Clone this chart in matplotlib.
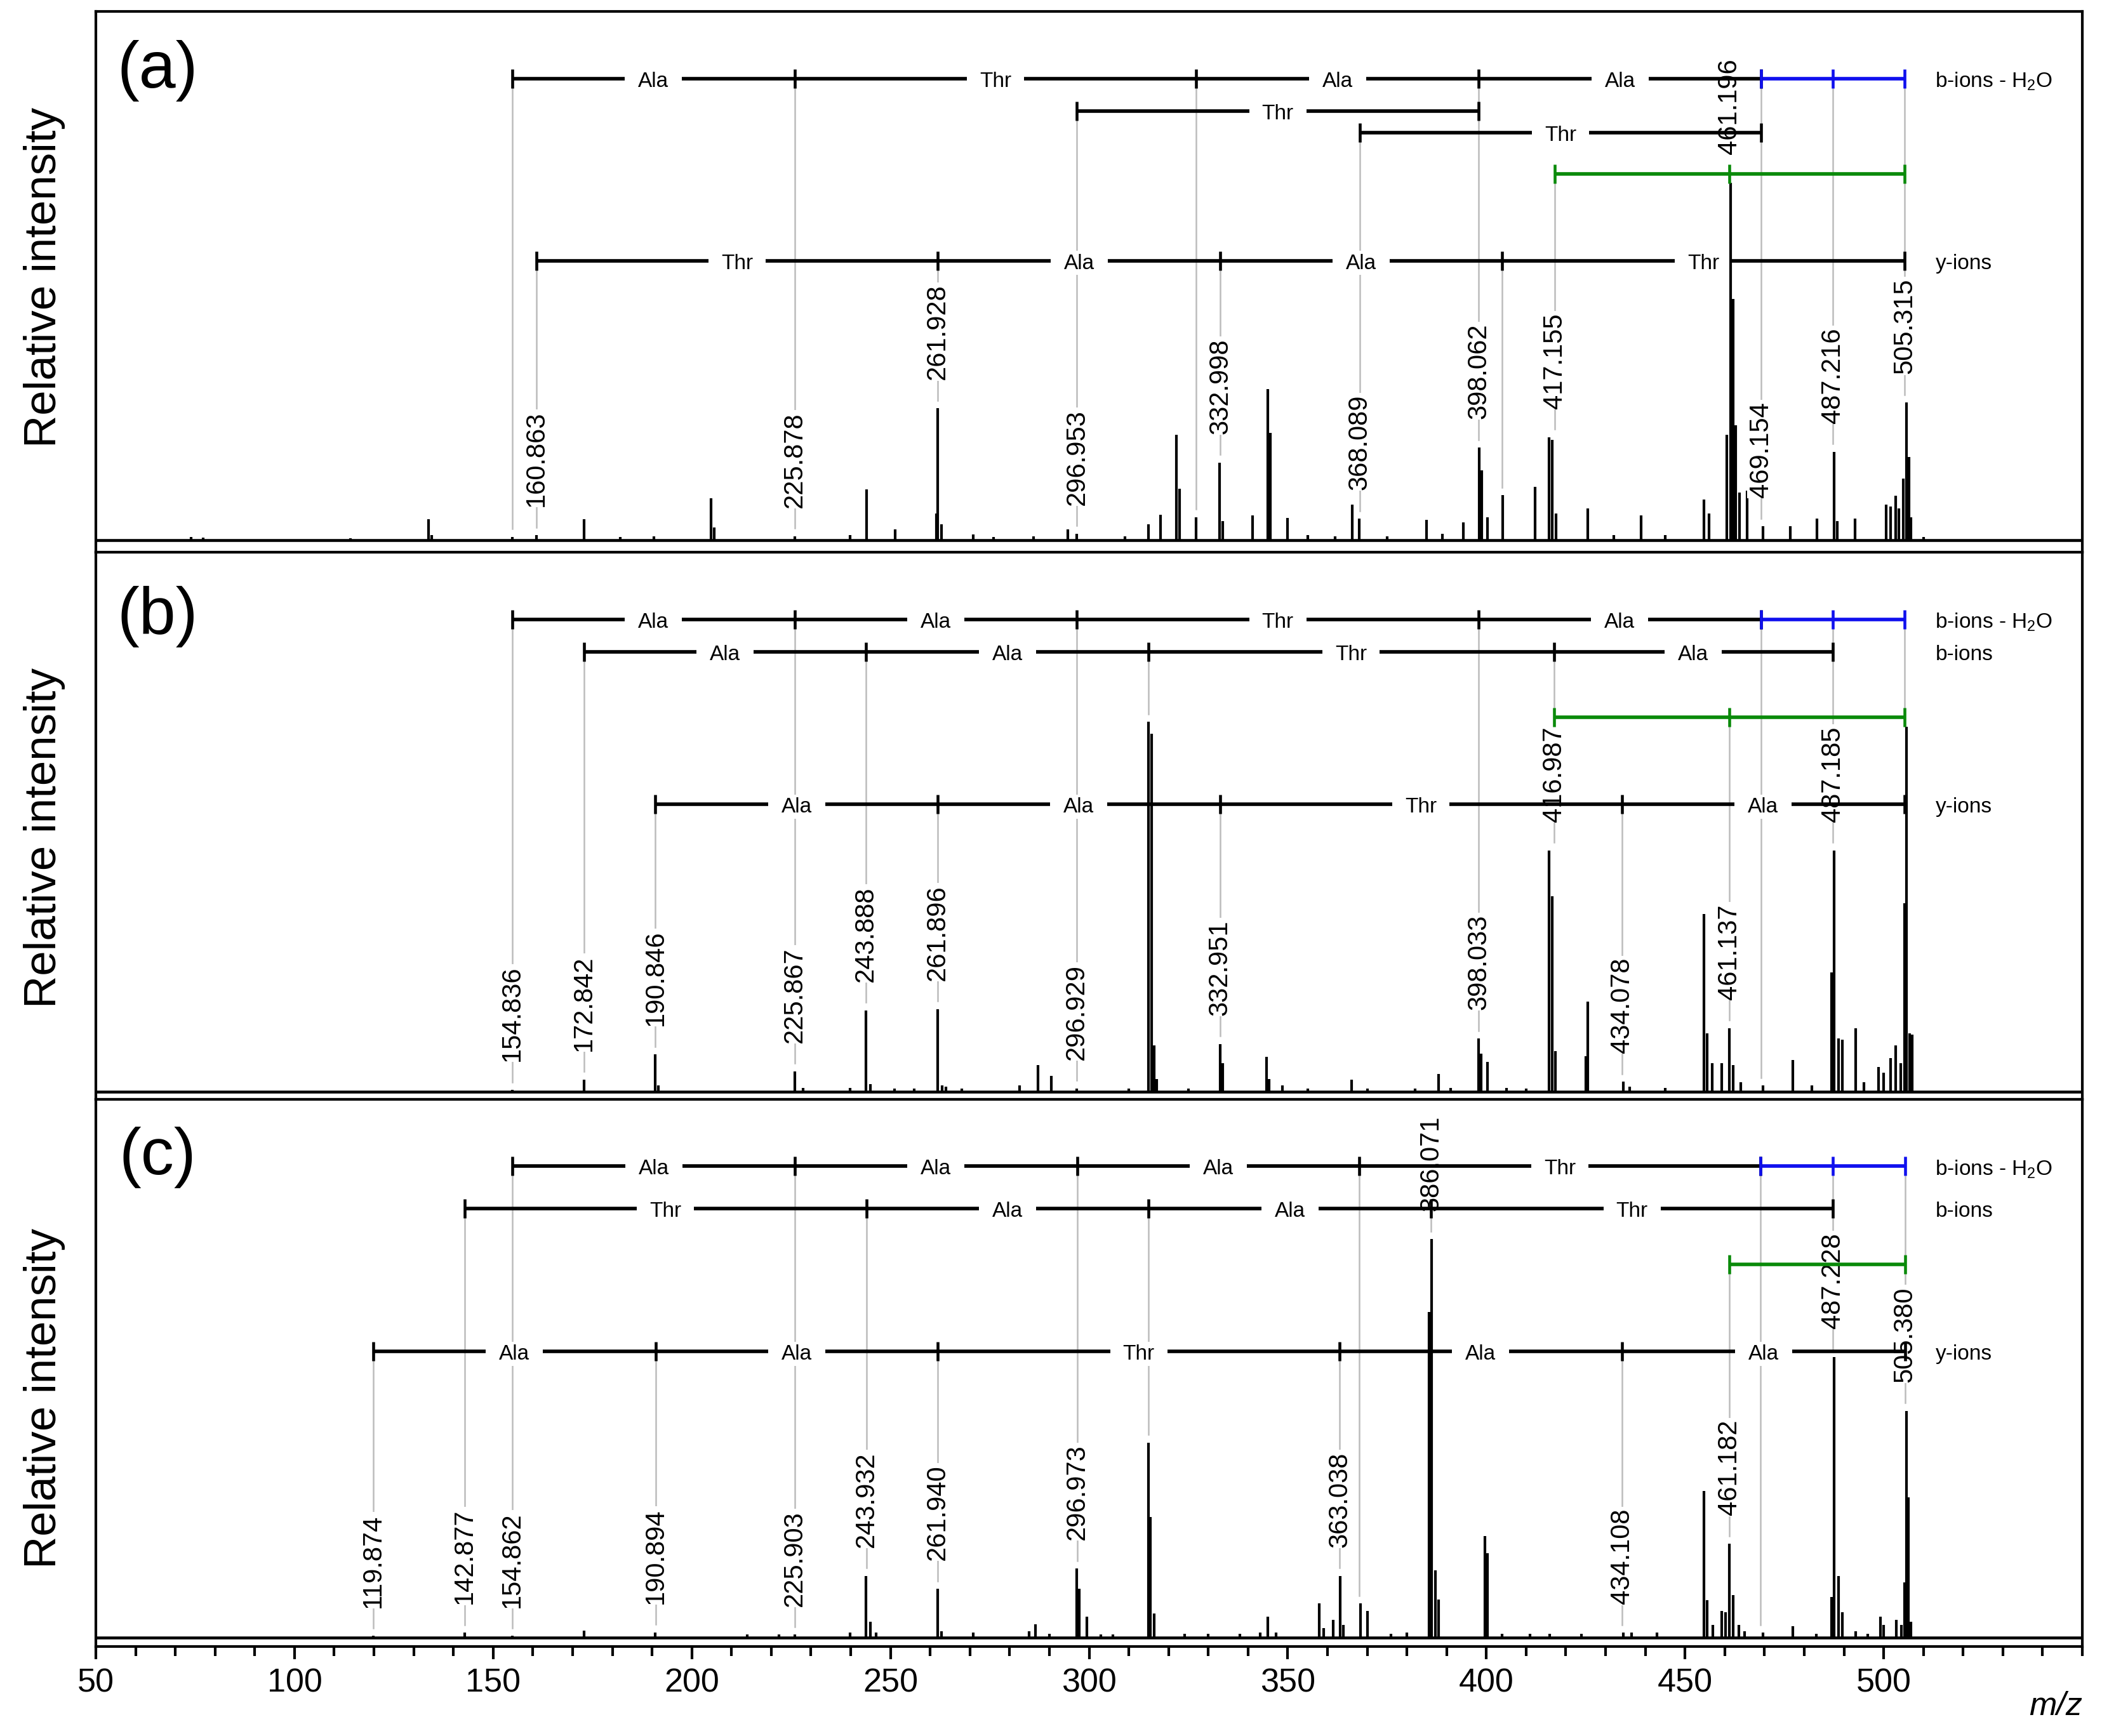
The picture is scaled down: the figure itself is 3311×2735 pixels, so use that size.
import matplotlib
matplotlib.use('Agg')
import matplotlib.pyplot as plt
from matplotlib.ticker import MultipleLocator

plt.rcParams['font.family'] = ['Liberation Sans', 'DejaVu Sans']
plt.rcParams['mathtext.fontset'] = 'custom'
plt.rcParams['mathtext.rm'] = 'Liberation Sans'
plt.rcParams['mathtext.it'] = 'Liberation Sans:italic'

# ---------------- data ----------------
panel_tags = ['(a)', '(b)', '(c)']

# spectrum (a)
a_mz = [73.9, 77.0, 114.0, 133.7, 134.5, 154.8, 160.9, 172.9, 182.0, 190.5, 204.9, 205.6,
        225.9, 239.8, 244.0, 251.2, 261.6, 261.9, 262.9, 270.8, 276.0, 286.0, 294.7, 296.9,
        309.0, 315.0, 318.0, 321.9, 322.7, 327.0, 332.9, 333.6, 341.2, 345.0, 345.6, 350.0,
        355.0, 362.0, 366.2, 368.0, 375.0, 385.0, 389.0, 394.2, 398.2, 398.8, 400.3, 404.1,
        412.2, 415.8, 416.6, 417.6, 425.5, 432.0, 438.9, 445.0, 454.8, 456.1, 460.5, 461.4,
        462.1, 462.7, 463.7, 465.7, 469.6, 476.5, 483.2, 487.5, 488.3, 492.8, 500.6, 501.8,
        503.0, 503.8, 504.9, 505.7, 506.4, 506.9, 510.0]
a_int = [0.9, 0.7, 0.5, 5.9, 1.4, 0.9, 1.4, 5.9, 0.9, 1.1, 11.7, 3.6,
         1.1, 1.4, 14.2, 3.0, 7.5, 36.9, 4.4, 1.6, 0.9, 1.1, 3.0, 1.8,
         1.1, 4.4, 7.1, 29.5, 14.4, 6.4, 21.7, 5.3, 6.9, 42.3, 30.0, 6.2,
         1.4, 1.1, 9.9, 6.0, 1.1, 5.7, 1.8, 5.0, 25.9, 19.5, 6.4, 12.6,
         14.9, 28.8, 28.1, 7.5, 8.9, 1.4, 6.9, 1.4, 11.4, 7.5, 29.5, 100.0,
         67.5, 32.1, 13.3, 13.9, 3.9, 3.9, 6.0, 24.7, 5.3, 6.0, 9.9, 9.4,
         12.4, 8.9, 17.2, 38.5, 23.3, 6.4, 0.9]

# spectrum (b)
b_mz = [154.8, 172.9, 190.8, 191.5, 225.9, 228.0, 239.8, 243.9, 245.0, 251.0, 256.0, 261.9,
        263.0, 264.0, 268.0, 282.5, 287.2, 290.5, 296.9, 310.0, 315.0, 315.8, 316.3, 317.0,
        325.0, 333.0, 333.6, 344.6, 345.3, 348.7, 355.0, 366.0, 370.0, 382.0, 388.0, 391.0,
        398.0, 398.6, 400.3, 405.0, 410.0, 415.8, 416.5, 417.3, 425.0, 425.5, 434.5, 436.0,
        445.0, 454.8, 455.5, 456.9, 459.2, 461.1, 462.1, 464.0, 469.6, 477.1, 482.0, 486.9,
        487.5, 488.6, 489.6, 493.0, 495.0, 498.7, 500.0, 501.8, 503.0, 504.3, 505.2, 505.7,
        506.6, 507.2]
b_int = [0.5, 3.3, 10.1, 1.7, 5.5, 1.0, 1.0, 22.0, 2.1, 0.9, 0.9, 22.3,
         1.7, 1.4, 0.9, 1.7, 7.2, 4.3, 0.9, 0.9, 100.0, 96.7, 12.5, 3.4,
         0.9, 12.9, 7.7, 9.4, 3.4, 1.7, 0.9, 3.3, 0.9, 0.9, 4.8, 1.0,
         14.4, 10.3, 8.1, 1.0, 0.9, 65.2, 52.8, 11.0, 9.6, 24.4, 2.7, 1.4,
         1.0, 48.0, 15.8, 7.7, 7.7, 17.2, 7.2, 2.6, 1.7, 8.6, 1.7, 32.2,
         65.2, 14.4, 14.1, 17.2, 2.6, 6.7, 5.1, 9.1, 12.5, 7.7, 50.9, 98.6,
         15.8, 15.4]

# spectrum (c)
c_mz = [119.9, 142.8, 154.8, 172.9, 190.8, 213.9, 222.0, 225.9, 239.8, 243.9, 245.0, 246.4,
        261.9, 262.8, 270.8, 284.9, 286.5, 290.0, 296.9, 297.6, 299.5, 303.0, 306.0, 315.0,
        315.5, 316.3, 324.0, 330.0, 338.0, 343.0, 345.0, 347.0, 358.0, 359.0, 361.4, 363.2,
        364.0, 368.3, 370.0, 376.0, 380.0, 385.6, 386.2, 387.2, 388.0, 399.7, 400.3, 404.0,
        411.0, 416.0, 424.0, 434.5, 436.5, 443.0, 454.8, 455.5, 457.0, 459.2, 460.2, 461.1,
        462.1, 463.5, 465.0, 469.6, 477.1, 483.0, 486.9, 487.5, 488.6, 489.6, 493.0, 496.0,
        499.2, 500.0, 503.2, 504.5, 505.2, 505.7, 506.2, 506.9]
c_int = [0.5, 1.3, 0.5, 1.8, 1.4, 0.8, 0.8, 0.8, 1.3, 15.6, 4.0, 1.3,
         12.3, 1.6, 1.4, 1.6, 3.5, 1.0, 17.4, 12.4, 5.3, 0.8, 0.8, 49.0,
         30.3, 6.2, 1.0, 1.0, 1.0, 1.3, 5.3, 1.3, 8.6, 2.4, 4.5, 15.6,
         3.2, 8.6, 6.7, 1.0, 1.3, 81.7, 100.0, 16.9, 9.6, 25.5, 21.3, 1.0,
         1.0, 1.0, 1.0, 1.3, 1.3, 1.3, 36.8, 9.4, 3.2, 6.7, 6.4, 23.6,
         10.7, 3.2, 1.6, 1.3, 3.0, 1.0, 10.2, 70.5, 15.6, 6.4, 1.6, 1.0,
         5.3, 3.2, 4.5, 3.2, 13.9, 57.0, 35.2, 4.0]

# peak annotations
a_labels = ['160.863', '225.878', '261.928', '296.953', '332.998', '368.089', '398.062',
            '417.155', '461.196', '469.154', '487.216', '505.315']
b_labels = ['154.836', '172.842', '190.846', '225.867', '243.888', '261.896', '296.929',
            '332.951', '398.033', '416.987', '434.078', '461.137', '487.185']
c_labels = ['119.874', '142.877', '154.862', '190.894', '225.903', '243.932', '261.940',
            '296.973', '363.038', '386.071', '434.108', '461.182', '487.228', '505.380']

# ion ladders: ticks, residues between ticks, colour, name
a_ladder_ticks = [[154.8, 225.878, 326.93, 398.062, 469.154],
                  [469.154, 487.216, 505.315],
                  [296.953, 398.062],
                  [368.089, 469.154],
                  [417.155, 461.196, 505.315],
                  [160.863, 261.928, 332.998, 404.0, 505.315]]
a_ladder_res = [['Ala', 'Thr', 'Ala', 'Ala'], [], ['Thr'], ['Thr'], [], ['Thr', 'Ala', 'Ala', 'Thr']]
a_ladder_col = ['black', 'blue', 'black', 'black', 'green', 'black']
a_ladder_name = ['b-ions - H$_2$O', '', '', '', '', 'y-ions']

b_ladder_ticks = [[154.836, 225.867, 296.929, 398.033, 469.1],
                  [469.1, 487.185, 505.3],
                  [172.842, 243.888, 314.92, 416.987, 487.185],
                  [416.987, 461.137, 505.3],
                  [190.846, 261.896, 332.951, 434.078, 505.3]]
b_ladder_res = [['Ala', 'Ala', 'Thr', 'Ala'], [], ['Ala', 'Ala', 'Thr', 'Ala'], [], ['Ala', 'Ala', 'Thr', 'Ala']]
b_ladder_col = ['black', 'blue', 'black', 'green', 'black']
b_ladder_name = ['b-ions - H$_2$O', '', 'b-ions', '', 'y-ions']

c_ladder_ticks = [[154.862, 225.903, 296.973, 368.01, 469.06],
                  [469.06, 487.228, 505.380],
                  [142.877, 243.932, 314.97, 386.071, 487.228],
                  [461.182, 505.380],
                  [119.874, 190.894, 261.940, 363.038, 434.108, 505.380]]
c_ladder_res = [['Ala', 'Ala', 'Ala', 'Thr'], [], ['Thr', 'Ala', 'Ala', 'Thr'], [], ['Ala', 'Ala', 'Thr', 'Ala', 'Ala']]
c_ladder_col = ['black', 'blue', 'black', 'green', 'black']
c_ladder_name = ['b-ions - H$_2$O', '', 'b-ions', '', 'y-ions']

x_ticks_major = [50, 100, 150, 200, 250, 300, 350, 400, 450, 500]

# ---------------- layout ----------------
FW, FH, DPI = 3312, 2736, 300
fig = plt.figure(figsize=(FW / DPI, FH / DPI), dpi=DPI)
ax_left_px, ax_w_px = 151, 3129
panel_px = [(19, 871), (871, 1733), (1733, 2595)]
ylims = [(-3.37, 147.96), (-2.06, 145.8), (-2.15, 135.1)]
ladder_levels = [[0.876, 0.876, 0.816, 0.776, 0.700, 0.539],
                 [0.877, 0.877, 0.818, 0.698, 0.539],
                 [0.878, 0.878, 0.800, 0.698, 0.539]]
ylabel_y = [0.509, 0.479, 0.455]
tag_y = [0.891, 0.883, 0.895]

GRAY = '#bcbcbc'
BLUE = '#1010ee'
GREEN = '#0a8a0a'
colmap = {'black': 'black', 'blue': BLUE, 'green': GREEN}

spectra = [(a_mz, a_int), (b_mz, b_int), (c_mz, c_int)]
labels_all = [a_labels, b_labels, c_labels]
ladders_all = [(a_ladder_ticks, a_ladder_res, a_ladder_col, a_ladder_name),
               (b_ladder_ticks, b_ladder_res, b_ladder_col, b_ladder_name),
               (c_ladder_ticks, c_ladder_res, c_ladder_col, c_ladder_name)]

xlim = (50, 550)
px_per_da = ax_w_px / (xlim[1] - xlim[0])
half_gap = 45 / px_per_da


def peak_height(mz, inten, m, tol=1.5):
    vals = [h for x, h in zip(mz, inten) if abs(x - m) <= tol]
    return max(vals) if vals else 0.0


axes = []
for i in range(3):
    top, bot = panel_px[i]
    ax = fig.add_axes([ax_left_px / FW, (FH - bot) / FH, ax_w_px / FW, (bot - top) / FH])
    axes.append(ax)
    y0, y1 = ylims[i]
    ax.set_xlim(*xlim)
    ax.set_ylim(y0, y1)
    ax.set_yticks([])
    for s in ax.spines.values():
        s.set_linewidth(1.0)
    h_px = bot - top
    px_per_unit = h_px / (y1 - y0)
    pt = DPI / 72.0

    mz, inten = spectra[i]
    # baseline + peaks
    ax.plot([xlim[0], xlim[1]], [0, 0], color='black', lw=1.1, zorder=3, solid_capstyle='butt')
    ax.vlines(mz, 0, inten, color='black', lw=1.0, zorder=3)

    ticks_l, res_l, col_l, name_l = ladders_all[i]
    levels = [y0 + f * (y1 - y0) for f in ladder_levels[i]]

    # gray connector lines for every ladder tick (from highest ladder row)
    merged = []
    for ticks, lev in zip(ticks_l, levels):
        for t in ticks:
            for entry in merged:
                if abs(entry[0] - t) < 1.0:
                    entry[1] = max(entry[1], lev)
                    break
            else:
                merged.append([t, lev])
    line_off = 3 * pt / px_per_unit
    for t, lev in merged:
        h = peak_height(mz, inten, t)
        end = h + line_off
        if lev > end:
            ax.plot([t, t], [lev, end], color=GRAY, lw=0.6, zorder=1)

    # ladders
    for ticks, res, col, name, lev in zip(ticks_l, res_l, col_l, name_l, levels):
        c = colmap[col]
        for k in range(len(ticks) - 1):
            x0, x1 = ticks[k], ticks[k + 1]
            r = res[k] if k < len(res) else ''
            if r:
                mid = 0.5 * (x0 + x1)
                ax.plot([x0, mid - half_gap], [lev, lev], color=c, lw=1.35, zorder=5, solid_capstyle='butt')
                ax.plot([mid + half_gap, x1], [lev, lev], color=c, lw=1.35, zorder=5, solid_capstyle='butt')
                ax.text(mid, lev, r, ha='center', va='center_baseline', fontsize=8, zorder=6,
                        bbox=dict(boxstyle='square,pad=0.1', fc='white', ec='none'))
            else:
                ax.plot([x0, x1], [lev, lev], color=c, lw=1.35, zorder=5, solid_capstyle='butt')
        ax.plot(ticks, [lev] * len(ticks), ls='none', marker='|', ms=7.2, mew=1.1, color=c, zorder=6)
        if name:
            ax.text(513, lev, name, ha='left', va='center_baseline', fontsize=8, zorder=6)

    # peak labels
    for s in labels_all[i]:
        m = float(s)
        h = peak_height(mz, inten, m)
        ax.annotate(s, xy=(m, h), xytext=(0, 11), textcoords='offset points', rotation=90,
                    ha='center', va='bottom', fontsize=10, zorder=4,
                    bbox=dict(boxstyle='square,pad=0.05', fc='white', ec='none'))

    ax.text(0.031, tag_y[i], panel_tags[i], transform=ax.transAxes, fontsize=25,
            ha='center', va='center')
    ax.text(-0.026, ylabel_y[i], 'Relative intensity', transform=ax.transAxes, fontsize=17,
            rotation=90, ha='center', va='center')

    ax.xaxis.set_major_locator(MultipleLocator(50))
    ax.xaxis.set_minor_locator(MultipleLocator(10))
    if i < 2:
        ax.tick_params(axis='x', which='both', bottom=False, labelbottom=False)
    else:
        ax.set_xticks(x_ticks_major)
        ax.tick_params(axis='x', which='major', direction='out', length=4.8, width=1.0,
                       labelsize=12.5, pad=3)
        ax.tick_params(axis='x', which='minor', direction='out', length=3.6, width=1.0)
        ax.text(1.0, -0.109, 'm/z', transform=ax.transAxes, fontsize=12.5, style='italic',
                ha='right', va='center')

fig.savefig('out.png', dpi=DPI)
